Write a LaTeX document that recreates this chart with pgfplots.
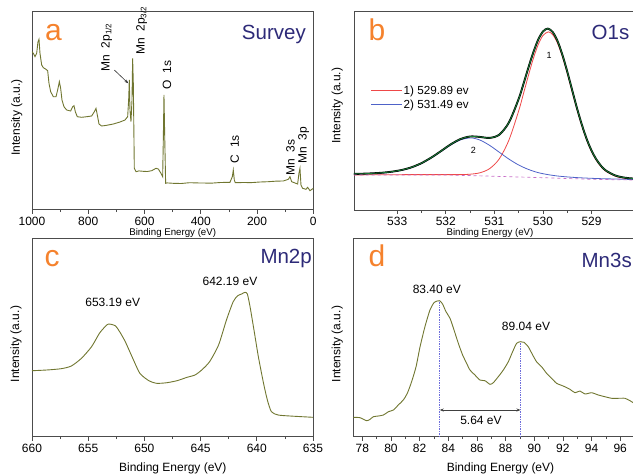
\documentclass[border=0pt]{standalone}
\usepackage{fontspec}
\setmainfont{Liberation Sans}
\usepackage{pgfplots}
\pgfplotsset{compat=1.18}
\usetikzlibrary{arrows.meta}

\definecolor{spec}{RGB}{112,118,48}
\definecolor{fitred}{RGB}{238,72,72}
\definecolor{fitblue}{RGB}{78,98,200}
\definecolor{fitgreen}{RGB}{25,125,55}
\definecolor{tagorange}{RGB}{245,130,45}
\definecolor{titleblue}{RGB}{45,42,120}
\definecolor{basepink}{RGB}{200,110,200}
\definecolor{guide}{RGB}{110,110,220}
\newcommand\fs[1]{\fontsize{#1}{#1}\selectfont}

\pgfplotsset{
  xps/.style={
    scale only axis, x dir=reverse, ymin=0,
    ytick=\empty, xtick pos=left, tick align=outside,
    axis line style={black!70, line width=0.8pt},
    every tick/.style={black!70, line width=0.7pt},
    major tick length=4pt, minor tick length=2.5pt,
    minor x tick num=1,
    ticklabel style={font=\fs{12}},
    /pgf/number format/assume math mode=true,
    /pgf/number format/1000 sep={},
  },
}

\begin{document}
\begin{tikzpicture}
\useasboundingbox (0pt,0pt) rectangle (633pt,-475pt);

% ---------------- (a) survey spectrum ----------------
\begin{axis}[xps, at={(32pt,-209.5pt)}, anchor=south west,
  width=281.3pt, height=198.5pt, xmin=0, xmax=1000, ymax=198.5,
  xtick={0,200,...,1000}]
\addplot[spec, line width=0.9pt] coordinates {
(1000,157.8) (995.3,156.2) (989.3,152.8) (983.4,156.2) (978.7,167.8) (975.1,170.2)
(971.6,156.2) (965.6,144.5) (959.7,141.8) (950.2,140.2) (944.3,138.8) (939.6,126.2)
(933.6,117.8) (924.2,112.8) (914.7,112.8) (908.8,119.5) (902.8,127.8) (898.1,121.2)
(893.4,109.5) (886.3,102.8) (876.8,99.5) (862.6,98.5) (855.5,102.8) (850.7,103.8)
(846.0,97.8) (838.9,92.8) (823.5,92.2) (805.7,92.8) (788.0,93.5) (778.4,97.8)
(772.5,101.2) (767.8,94.5) (761.8,85.5) (752.4,83.5) (734.6,84.2) (710.9,85.5)
(687.2,87.5) (669.4,89.5) (659.9,92.8) (656.4,109.5) (654.0,129.5) (651.7,99.5)
(648.1,87.8) (644.5,109.5) (642.2,151.2) (639.8,126.2) (636.3,41.2) (630.3,37.8)
(620,38.6) (604.3,38.2) (590,38.0) (574.6,38.8) (559.2,41.2) (550.9,40.5)
(541.5,36.2) (535.5,32.8) (533.2,69.5) (530.8,114.5) (528.4,76.2) (524.9,26.2)
(520,26.6) (497.6,26.2) (470,26.0) (440,26.8) (402.8,26.5) (360,26.4) (330,27.0)
(296.2,27.2) (287.9,32.8) (284.4,39.5) (280.8,29.5) (277.3,26.8) (250,27.0)
(220,26.9) (189.6,27.5) (160,27.8) (130,28.4) (106.6,28.5) (88.9,30.2) (82.9,32.8)
(77.0,27.8) (55.7,25.5) (50.9,36.2) (47.4,41.2) (43.8,24.5) (37.9,21.2) (26.1,20.2)
(20.1,22.2) (11.8,18.8) (0,21.2)};
\end{axis}

% ---------------- (b) O 1s ----------------
\begin{axis}[xps, at={(354pt,-210pt)}, anchor=south west,
  width=290pt, height=198.5pt, xmin=527.92, xmax=533.89, ymax=198.5,
  xtick={529,...,533}]
% component 1
\addplot[fitred, line width=0.8pt, smooth] coordinates {
(533.9,35.1) (533.5,35.2) (533.1,35.3) (532.7,35.4) (532.3,35.4) (531.9,35.4)
(531.7,35.4) (531.5,35.8) (531.3,37.2) (531.1,41.3) (530.9,51.1) (530.7,70.0)
(530.5,99.1) (530.4,116.6) (530.3,134.4) (530.2,151.2) (530.1,165.1) (530.0,174.5)
(529.89,178.1) (529.8,175.4) (529.7,166.8) (529.6,153.4) (529.5,136.8) (529.4,118.6)
(529.3,100.7) (529.2,84.2) (529.1,70.0) (529.0,58.4) (528.9,49.6) (528.8,43.1)
(528.7,38.6) (528.5,33.6) (528.3,31.6) (528.15,30.9) (527.92,30.4)};
% component 2
\addplot[fitblue, line width=0.8pt, smooth] coordinates {
(533.9,36.0) (533.7,36.2) (533.5,36.6) (533.3,37.1) (533.1,38.1) (532.9,39.8)
(532.7,42.5) (532.5,46.5) (532.3,52.0) (532.1,58.5) (531.9,65.0) (531.7,70.1)
(531.49,72.1) (531.3,70.0) (531.1,64.7) (530.9,57.8) (530.7,50.9) (530.5,45.0)
(530.3,40.6) (530.1,37.4) (529.9,35.4) (529.7,34.0) (529.5,33.1) (529.3,32.4)
(529.1,31.9) (528.9,31.5) (528.7,31.2) (528.5,31.0) (528.3,30.7) (528.15,30.5)
(527.92,30.3)};
% measured envelope (black) with the fitted sum on top (green)
\addplot[black, line width=1.9pt, smooth] coordinates {
(533.9,36.1) (533.7,36.3) (533.5,36.7) (533.3,37.3) (533.1,38.4) (532.9,40.1)
(532.7,42.8) (532.5,46.9) (532.3,52.4) (532.1,58.9) (531.9,65.6) (531.7,70.9)
(531.5,73.5) (531.3,73.1) (531.1,72.1) (530.9,75.3) (530.7,87.6) (530.5,111.1)
(530.4,126.3) (530.3,142.3) (530.2,157.4) (530.1,170.1) (530.0,178.5) (529.9,181.4)
(529.8,178.0) (529.7,169.0) (529.6,155.2) (529.5,138.4) (529.4,120.1) (529.3,101.9)
(529.2,85.4) (529.1,71.0) (529.0,59.4) (528.9,50.5) (528.8,43.9) (528.7,39.3)
(528.5,34.3) (528.3,32.2) (528.15,31.5) (527.92,30.8)};
\addplot[fitgreen, line width=0.8pt, smooth] coordinates {
(533.9,36.1) (533.7,36.3) (533.5,36.7) (533.3,37.3) (533.1,38.4) (532.9,40.1)
(532.7,42.8) (532.5,46.9) (532.3,52.4) (532.1,58.9) (531.9,65.6) (531.7,70.9)
(531.5,73.5) (531.3,73.1) (531.1,72.1) (530.9,75.3) (530.7,87.6) (530.5,111.1)
(530.4,126.3) (530.3,142.3) (530.2,157.4) (530.1,170.1) (530.0,178.5) (529.9,181.4)
(529.8,178.0) (529.7,169.0) (529.6,155.2) (529.5,138.4) (529.4,120.1) (529.3,101.9)
(529.2,85.4) (529.1,71.0) (529.0,59.4) (528.9,50.5) (528.8,43.9) (528.7,39.3)
(528.5,34.3) (528.3,32.2) (528.15,31.5) (527.92,30.8)};
% Shirley background
\addplot[basepink, dashed, line width=0.7pt] coordinates {
(533.9,35) (532.0,35) (531.4,34.3) (530.0,32.3) (529.0,30.7) (527.92,29.8)};
% legend keys
\addplot[fitred, line width=1pt] coordinates {(533.54,119.5) (532.91,119.5)};
\addplot[fitblue, line width=1pt] coordinates {(533.54,105.5) (532.91,105.5)};
\end{axis}

% ---------------- (c) Mn 2p ----------------
\begin{axis}[xps, at={(32pt,-436.7pt)}, anchor=south west,
  width=281pt, height=198.4pt, xmin=635, xmax=660, ymax=198.4,
  xtick={635,640,...,660}]
\addplot[spec, line width=0.9pt, smooth, tension=0.4] coordinates {
(660,66.0) (658.7,66.7) (657.4,68.0) (656.5,70.7) (655.6,78.4) (654.7,90.0)
(654.0,103.4) (653.5,110.0) (653.19,112.7) (652.6,111.0) (652.2,105.0) (651.7,95.0)
(651.1,80.0) (650.4,63.4) (649.6,56.0) (648.9,53.4) (648.0,54.0) (647.1,56.0)
(646.2,59.4) (645.5,61.7) (644.9,66.7) (644.2,75.0) (643.4,91.7) (642.7,116.7)
(642.1,135.0) (641.7,141.0) (641.35,142.7) (641.05,144.4) (640.84,142.7) (640.6,130.0)
(640.25,106.7) (639.86,80.0) (639.4,53.4) (639.06,36.7) (638.7,25.0) (638.1,21.7)
(637.05,20.7) (635.0,19.4)};
\end{axis}

% ---------------- (d) Mn 3s ----------------
\begin{axis}[xps, x dir=normal, at={(353.3pt,-436.7pt)}, anchor=south west,
  width=290pt, height=198.4pt, xmin=77.37, xmax=97.61, ymax=198.4,
  xtick={78,80,...,96}]
\addplot[spec, line width=0.9pt, smooth, tension=0.4] coordinates {
(77.37,19.4) (77.84,19.0) (78.3,16.0) (78.54,17.4) (78.77,20.0) (79.12,20.7)
(79.47,21.7) (79.82,25.0) (80.17,26.7) (80.51,31.7) (80.86,36.7) (81.14,43.4)
(81.44,55.0) (81.75,70.0) (82.03,90.0) (82.37,110.0) (82.72,126.7) (83.0,134.0)
(83.23,135.7) (83.40,136.0) (83.6,132.7) (83.84,125.0) (84.12,118.4) (84.4,106.7)
(84.7,93.4) (85.0,81.7) (85.28,73.4) (85.51,66.7) (85.86,61.7) (86.2,56.7)
(86.56,56.0) (86.91,52.4) (87.14,54.0) (87.49,60.0) (87.84,66.7) (88.19,75.0)
(88.49,85.0) (88.77,93.4) (89.04,95.0) (89.28,94.4) (89.58,90.0) (89.89,81.7)
(90.16,75.0) (90.51,70.0) (90.86,63.4) (91.21,58.4) (91.56,53.4) (92.02,50.7)
(92.49,47.4) (92.84,44.0) (93.19,45.7) (93.54,42.7) (94.0,44.0) (94.47,41.7)
(94.93,40.0) (95.4,38.4) (95.86,38.4) (96.33,38.4) (96.68,36.0) (96.91,34.0)
(97.3,32.5)};
% peak position guides and splitting
\addplot[guide, densely dotted, line width=0.7pt] coordinates {(83.40,0) (83.40,136.0)};
\addplot[guide, densely dotted, line width=0.7pt] coordinates {(89.04,0) (89.04,95.0)};
\addplot[black!75, line width=0.7pt, {Stealth[length=4pt]}-{Stealth[length=4pt]}]
  coordinates {(83.40,26.7) (89.04,26.7)};
\end{axis}

% ---------------- panel letters and titles ----------------
\begin{scope}[every node/.style={inner sep=0pt}]
\node[anchor=base west, text=tagorange, font=\fs{30}] at (45pt,-40.7pt) {a};
\node[anchor=base west, text=tagorange, font=\fs{30}] at (368.5pt,-40.7pt) {b};
\node[anchor=base west, text=tagorange, font=\fs{30}] at (44.5pt,-266pt) {c};
\node[anchor=base west, text=tagorange, font=\fs{30}] at (368.5pt,-266.7pt) {d};
\node[anchor=base east, text=titleblue, font=\fs{20.5}] at (306pt,-39.3pt) {Survey};
\node[anchor=base east, text=titleblue, font=\fs{20.5}] at (629.5pt,-39.3pt) {O1s};
\node[anchor=base east, text=titleblue, font=\fs{20.5}] at (312pt,-263.3pt) {Mn2p};
\node[anchor=base east, text=titleblue, font=\fs{20.5}] at (632pt,-267.7pt) {Mn3s};

% axis labels
\node[font=\fs{9.7}] at (172.7pt,-233pt) {Binding Energy (eV)};
\node[font=\fs{9.7}] at (490pt,-233pt) {Binding Energy (eV)};
\node[font=\fs{12}] at (172.8pt,-468.3pt) {Binding Energy (eV)};
\node[font=\fs{12}] at (500.5pt,-468.3pt) {Binding Energy (eV)};
\node[font=\fs{12}, rotate=90] at (16.7pt,-117.5pt) {Intensity (a.u.)};
\node[font=\fs{12}, rotate=90] at (337.3pt,-105.8pt) {Intensity (a.u.)};
\node[font=\fs{12}, rotate=90] at (16pt,-344pt) {Intensity (a.u.)};
\node[font=\fs{12}, rotate=90] at (337.3pt,-344pt) {Intensity (a.u.)};

% O 1s legend texts
\node[anchor=west, font=\fs{11.7}] at (403.5pt,-91pt) {1) 529.89 ev};
\node[anchor=west, font=\fs{11.7}] at (403.5pt,-105pt) {2) 531.49 ev};

% survey peak assignments
\node[font=\fs{12}, rotate=90] at (106.7pt,-47.5pt) {Mn\ \ 2p\textsubscript{1/2}};
\node[font=\fs{12}, rotate=90] at (141.7pt,-30.8pt) {Mn\ \ 2p\textsubscript{3/2}};
\node[font=\fs{12}, rotate=90] at (167pt,-75pt) {O\ \ 1s};
\node[font=\fs{12}, rotate=90] at (234.7pt,-149.2pt) {C\ \ 1s};
\node[font=\fs{12}, rotate=90] at (290.5pt,-157.5pt) {Mn\ \ 3s};
\node[font=\fs{12}, rotate=90] at (303.8pt,-145.3pt) {Mn\ \ 3p};
\draw[black!80, line width=0.6pt, -{Stealth[length=4pt]}] (114.3pt,-70pt) -- (128.3pt,-83.3pt);

% O 1s component numbers
\node[font=\fs{9}] at (549pt,-55pt) {1};
\node[font=\fs{9}] at (473.3pt,-150pt) {2};

% Mn 2p peak positions
\node[font=\fs{12}] at (112.7pt,-302.7pt) {653.19 eV};
\node[font=\fs{12}] at (230pt,-281.7pt) {642.19 eV};

% Mn 3s peak positions and splitting
\node[font=\fs{12}] at (436.8pt,-289.3pt) {83.40 eV};
\node[font=\fs{12}] at (526pt,-326.7pt) {89.04 eV};
\node[font=\fs{12}] at (481pt,-420.7pt) {5.64 eV};
\end{scope}
\end{tikzpicture}
\end{document}
